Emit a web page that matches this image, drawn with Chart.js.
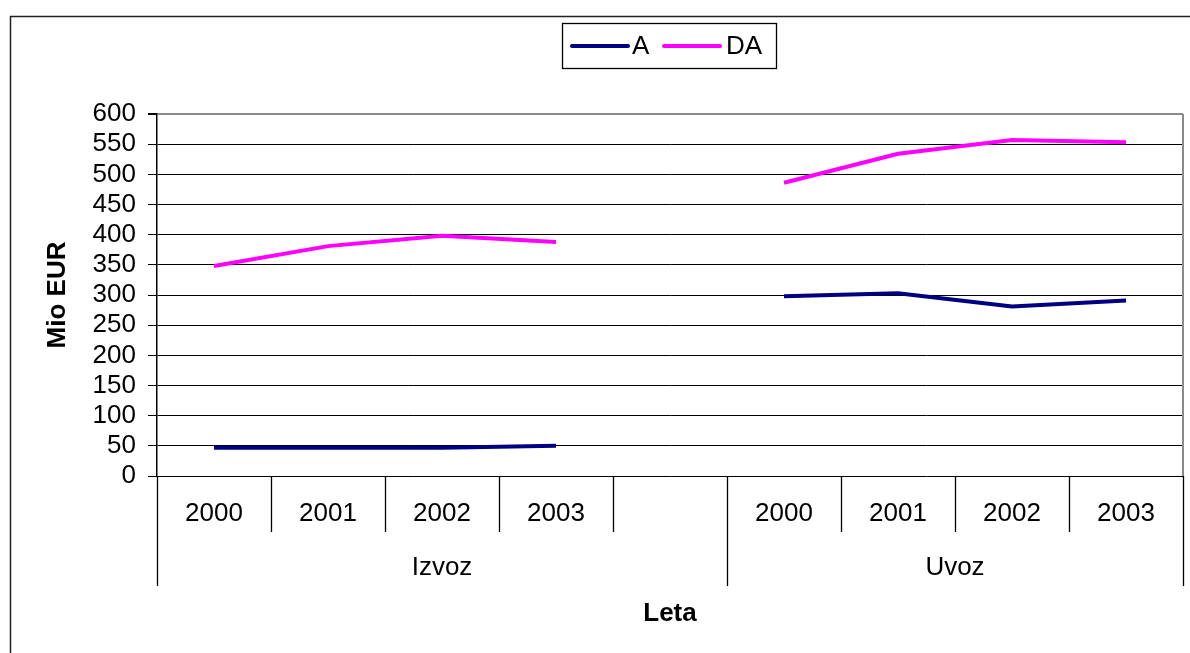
<!DOCTYPE html>
<html>
<head>
<meta charset="utf-8">
<script src="https://cdn.jsdelivr.net/npm/chart.js@4/dist/chart.umd.min.js"></script>
<style>
  html, body { margin: 0; padding: 0; background: #fff; }
  #wrap { width: 1190px; height: 653px; }
</style>
</head>
<body>
<div id="wrap"><canvas id="linechart1" width="1190" height="653"></canvas></div>
<script>
// data
const years = ['2000', '2001', '2002', '2003', '', '2000', '2001', '2002', '2003'];
const groups = ['Izvoz', 'Uvoz'];
const groupSizes = [5, 4];
const seriesA = [47, 47, 47, 50, null, 298, 303, 281, 291];
const seriesDA = [348, 381, 398, 388, null, 486, 534, 557, 553];
const yTicks = [0, 50, 100, 150, 200, 250, 300, 350, 400, 450, 500, 550, 600];

const FONT = '"Liberation Sans", Arial, sans-serif';

// frame, legend and the two-level category axis
const excelLook = {
    id: 'excelLook',
    beforeDraw(chart) {
        const c = chart.ctx;
        c.save();
        c.strokeStyle = '#222';
        c.lineWidth = 1.5;
        c.strokeRect(10.5, 16.5, chart.width + 20, chart.height + 20);
        c.restore();
    },
    afterDraw(chart) {
        const c = chart.ctx;
        const x = chart.scales.x;
        const area = chart.chartArea;
        const n = years.length;
        const edge = i => i === 0 ? area.left : (x.getPixelForValue(i - 1) + x.getPixelForValue(i)) / 2;
        const edgeAt = i => i >= n ? area.right : edge(i);

        c.save();
        // right side of the plot area
        c.strokeStyle = '#8a8a8a';
        c.lineWidth = 2;
        c.beginPath();
        c.moveTo(area.right, area.top);
        c.lineTo(area.right, area.bottom);
        c.stroke();

        // category dividers
        c.strokeStyle = '#000';
        c.lineWidth = 1.3;
        const groupEdges = [0];
        groupSizes.reduce((s, g) => { groupEdges.push(s + g); return s + g; }, 0);
        for (let i = 0; i <= n; i++) {
            const px = Math.round(edgeAt(i)) + 0.5;
            const deep = groupEdges.includes(i);
            c.beginPath();
            c.moveTo(px, area.bottom);
            c.lineTo(px, area.bottom + (deep ? 110 : 56));
            c.stroke();
        }

        c.fillStyle = '#000';
        c.textAlign = 'center';
        c.textBaseline = 'middle';
        c.font = '26px ' + FONT;
        years.forEach((y, i) => {
            if (y) c.fillText(y, x.getPixelForValue(i), area.bottom + 38);
        });
        let start = 0;
        groups.forEach((g, k) => {
            const a = edgeAt(start), b = edgeAt(start + groupSizes[k]);
            c.fillText(g, (a + b) / 2, area.bottom + 92);
            start += groupSizes[k];
        });

        c.font = 'bold 26px ' + FONT;
        c.fillText('Leta', (area.left + area.right) / 2, area.bottom + 138);

        // legend
        c.strokeStyle = '#000';
        c.lineWidth = 1.3;
        c.strokeRect(562.5, 23.5, 214, 45);
        const items = [[572, 628, 632], [664, 720, 726]];
        c.font = '26px ' + FONT;
        c.textAlign = 'left';
        chart.data.datasets.forEach((ds, k) => {
            const [l0, l1, tx] = items[k];
            c.strokeStyle = ds.borderColor;
            c.lineWidth = 4;
            c.lineCap = 'round';
            c.beginPath();
            c.moveTo(l0, 46);
            c.lineTo(l1, 46);
            c.stroke();
            c.fillText(ds.label, tx, 47);
        });
        c.restore();
    }
};

const ctx1 = document.getElementById('linechart1').getContext('2d');
const linechart1 = new Chart(ctx1, {
    type: 'line',
    data: {
        labels: years,
        datasets: [{
            label: 'A',
            data: seriesA,
            borderColor: '#000080',
            borderWidth: 4,
            pointRadius: 0,
            tension: 0
        }, {
            label: 'DA',
            data: seriesDA,
            borderColor: '#FF00FF',
            borderWidth: 4,
            pointRadius: 0,
            tension: 0
        }]
    },
    options: {
        responsive: false,
        animation: false,
        spanGaps: false,
        layout: {
            padding: { left: 0, top: 114, right: 7, bottom: 177 }
        },
        plugins: {
            legend: { display: false },
            tooltip: { enabled: false }
        },
        scales: {
            x: {
                type: 'category',
                offset: true,
                display: false
            },
            y: {
                min: 0,
                max: 600,
                afterFit(scale) { scale.width = 157; },
                afterBuildTicks(scale) { scale.ticks = yTicks.map(v => ({ value: v })); },
                border: { color: '#000', width: 1.5 },
                grid: {
                    color: c => c.tick && c.tick.value === 600 ? '#8a8a8a' : '#000',
                    lineWidth: c => c.tick && c.tick.value === 600 ? 2 : 1,
                    tickColor: '#000',
                    tickLength: 9
                },
                ticks: {
                    color: '#000',
                    padding: 12,
                    autoSkip: false,
                    font: { family: FONT, size: 26 }
                },
                title: {
                    display: true,
                    text: 'Mio EUR',
                    color: '#000',
                    font: { family: FONT, size: 26, weight: 'bold' },
                    padding: { top: 42, bottom: 0 }
                }
            }
        }
    },
    plugins: [excelLook]
});
</script>
</body>
</html>
